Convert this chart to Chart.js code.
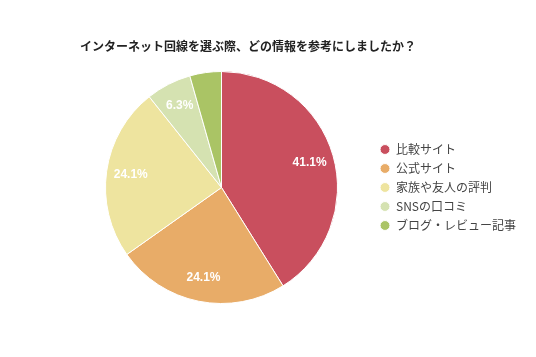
<!DOCTYPE html>
<html><head><meta charset="utf-8">
<script src="https://cdn.jsdelivr.net/npm/chart.js@4"></script>
<style>html,body{margin:0;padding:0;background:#fff;}#w{width:536px;height:357px;}</style>
</head><body><div id="w"><canvas id="c" width="536" height="357"></canvas></div>
<script>
const titleText = "インターネット回線を選ぶ際、どの情報を参考にしましたか？";
const categories = ["比較サイト", "公式サイト", "家族や友人の評判", "SNSの口コミ", "ブログ・レビュー記事"];
const values = [41.1, 24.1, 24.1, 6.3, 4.4];
const valueLabels = ["41.1%", "24.1%", "24.1%", "6.3%", ""];
const colors = ["#C94F5E", "#E8AC68", "#EEE49F", "#D5E2B1", "#AAC465"];

const titlePlugin = {
  id: 'customTitle',
  afterDraw(chart) {
    const ctx = chart.ctx;
    ctx.save();
    ctx.font = 'bold 12px "Noto Sans CJK JP"';
    ctx.fillStyle = '#222';
    ctx.textBaseline = 'middle';
    ctx.textAlign = 'left';
    ctx.fillText(titleText, 80, 46);
    ctx.restore();
  }
};
const labelPlugin = {
  id: 'sliceLabels',
  afterDatasetsDraw(chart) {
    const ctx = chart.ctx;
    const meta = chart.getDatasetMeta(0);
    ctx.save();
    ctx.font = 'bold 12px "Liberation Sans"';
    ctx.fillStyle = '#fff';
    ctx.textAlign = 'center';
    ctx.textBaseline = 'middle';
    meta.data.forEach((arc, i) => {
      const p = arc.getProps(['x','y','startAngle','endAngle','outerRadius'], true);
      const a = (p.startAngle + p.endAngle) / 2;
      const r = p.outerRadius * 0.79;
      ctx.fillText(valueLabels[i], p.x + Math.cos(a) * r, p.y + Math.sin(a) * r);
    });
    ctx.restore();
  }
};

new Chart(document.getElementById('c'), {
  type: 'pie',
  data: {
    labels: categories,
    datasets: [{ data: values, backgroundColor: colors, borderColor: '#fff', borderWidth: 1 }]
  },
  options: {
    responsive: false,
    animation: false,
    layout: { padding: { top: 71, bottom: 53, left: 70, right: 10 } },
    plugins: {
      tooltip: { enabled: false },
      legend: {
        position: 'right',
        labels: {
          usePointStyle: true, pointStyle: 'circle', boxWidth: 10, boxHeight: 7,
          padding: 7, color: '#444',
          font: { size: 12, family: '"Noto Sans CJK JP"' }
        }
      }
    }
  },
  plugins: [titlePlugin, labelPlugin]
});
</script></body></html>
